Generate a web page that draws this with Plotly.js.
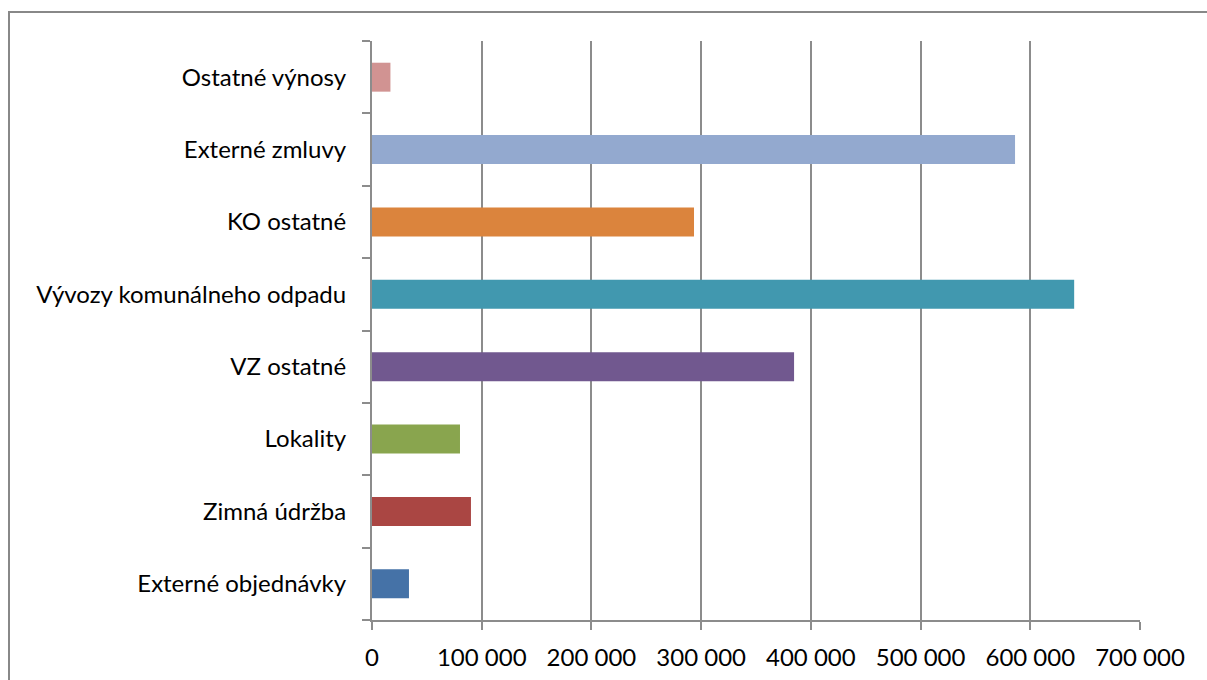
<!DOCTYPE html>
<html>
<head>
<meta charset="utf-8">
<script src="https://cdn.plot.ly/plotly-3.0.1.min.js"></script>
<style>
  html, body { margin: 0; padding: 0; background: #fff; }
  #wrap { position: relative; width: 1207px; height: 680px; overflow: hidden; }
  #frame { position: absolute; left: 8px; top: 11px; width: 1220px; height: 700px; border: 2px solid #888; box-sizing: border-box; pointer-events: none; }
  #chart { position: absolute; left: 0; top: 0; width: 1207px; height: 680px; }
</style>
</head>
<body>
<div id="wrap">
  <div id="chart"></div>
  <div id="frame"></div>
</div>
<script>
const categories = [
  "Externé objednávky",
  "Zimná údržba",
  "Lokality",
  "VZ ostatné",
  "Vývozy komunálneho odpadu",
  "KO ostatné",
  "Externé zmluvy",
  "Ostatné výnosy"
];
const values = [33700, 90200, 80200, 384700, 640000, 293500, 586100, 16800];
const colors = ["#4572A7", "#AA4643", "#89A54E", "#71588F", "#4198AF", "#DB843D", "#93A9CF", "#D19392"];
const tickValues = [0, 100000, 200000, 300000, 400000, 500000, 600000, 700000];

const fontFamily = "Lato, 'Open Sans', sans-serif";

Plotly.newPlot("chart", [{
  type: "bar",
  orientation: "h",
  x: values,
  y: categories,
  marker: { color: colors, line: { width: 0 } },
  hoverinfo: "x+y"
}], {
  width: 1207,
  height: 680,
  margin: { l: 372, r: 67, t: 41, b: 60, pad: 0 },
  paper_bgcolor: "#fff",
  plot_bgcolor: "#fff",
  separators: ", ",
  showlegend: false,
  bargap: 0.6,
  font: { family: fontFamily, size: 24, color: "#000" },
  xaxis: {
    range: [0, 700000],
    tickvals: tickValues,
    tickformat: ",d",
    showgrid: true,
    gridcolor: "#8c8c8c",
    gridwidth: 2,
    zeroline: false,
    showline: true,
    linecolor: "#8c8c8c",
    linewidth: 2,
    ticks: "outside",
    ticklen: 8,
    tickwidth: 2,
    tickcolor: "#8c8c8c",
    ticklabelstandoff: 7,
    tickfont: { family: fontFamily, size: 24, color: "#000" },
    fixedrange: true
  },
  yaxis: {
    type: "category",
    categoryorder: "array",
    categoryarray: categories,
    showgrid: false,
    zeroline: false,
    showline: true,
    linecolor: "#8c8c8c",
    linewidth: 2,
    ticks: "outside",
    tickson: "boundaries",
    ticklen: 8,
    tickwidth: 2,
    tickcolor: "#8c8c8c",
    ticklabelstandoff: 19,
    tickfont: { family: fontFamily, size: 24, color: "#000" },
    fixedrange: true
  }
}, { displayModeBar: false, staticPlot: true });
</script>
</body>
</html>
